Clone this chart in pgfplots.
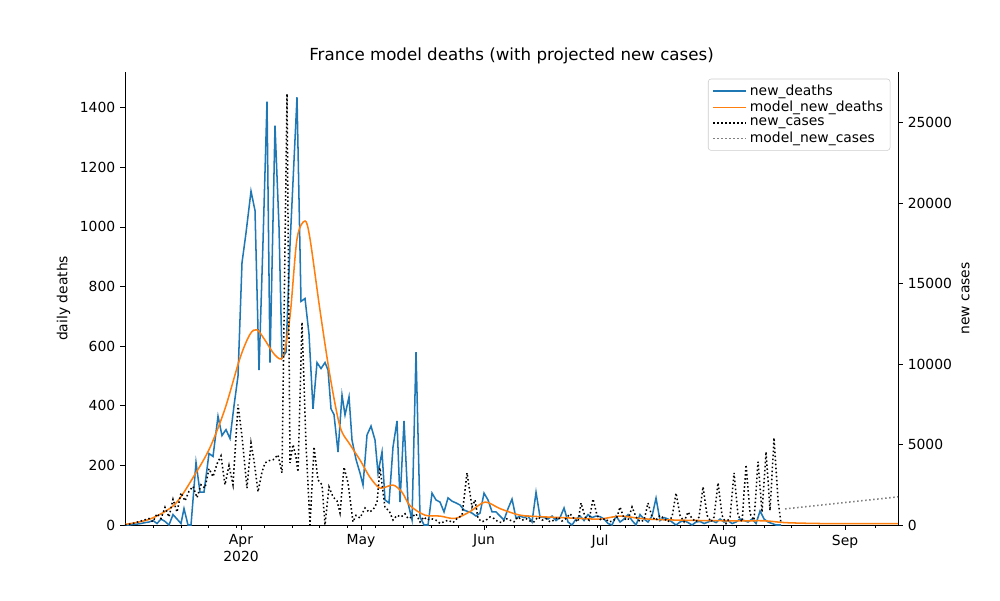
\documentclass[border=0pt]{standalone}
\usepackage{pgfplots}
\pgfplotsset{compat=1.18}
\usepackage{fontspec}
\setmainfont{DejaVu Sans}
\definecolor{c0}{HTML}{1F77B4}
\definecolor{c1}{HTML}{FF7F0E}
\begin{document}
\fontsize{10pt}{12pt}\selectfont
\begin{tikzpicture}
\path (-90pt,-54pt) rectangle (630pt,378pt);
\pgfplotsset{every axis/.append style={scale only axis, width=556.6pt, height=326.2pt,
  xmin=125, xmax=898, /pgf/number format/assume math mode=true,
  tick label style={font=\fontsize{10pt}{12pt}\selectfont},
  label style={font=\fontsize{10pt}{12pt}\selectfont},
  tick align=outside, major tick length=3.5pt, minor tick length=2pt, tick style={black, line width=0.6pt}}}
\begin{axis}[axis y line*=left, axis x line*=bottom, ymin=0, ymax=1520,
  ylabel={daily deaths},
  xtick={241,361,484,600,723,845},
  xticklabels={{Apr\\2020},May,Jun,Jul,Aug,Sep},
  xticklabel style={align=center},
  minor xtick={153,181,208,236,264,292,319,347,375,403,431,458,486,514,542,569,597,625,653,680,708,736,764,791,819,875},
  ytick={0,200,400,600,800,1000,1200,1400},
  yticklabel style={/pgf/number format/1000 sep={}},
  title={France model deaths (with projected new cases)},
  title style={font=\fontsize{12pt}{14pt}\selectfont, yshift=-4pt}]
\addplot[c0, line width=1.1pt] coordinates {
(125,0)(129,0)(133,2)(137,3)(141,5)(145,8)(149,10)(153,15)(157,5)(161,20)(165,12)(169,0)(173,35)(177,20)(181,5)(184,55)(188,0)(191,0)(196,210)(200,110)(204,110)(209,240)(213,230)(218,365)(222,300)(226,320)(230,290)(234,400)(238,500)(242,880)(246,980)(251,1120)(255,1055)(259,520)(263,950)(267,1420)(270,545)(275,1340)(279,1000)(282,560)(286,580)(290,940)(297,1435)(301,750)(305,760)(309,640)(313,390)(317,545)(321,525)(325,545)(328,520)(331,390)(334,370)(338,245)(342,436)(345,369)(349,430)(352,285)(356,220)(360,174)(363,134)(367,302)(371,332)(375,285)(378,174)(382,245)(385,84)(389,74)(393,262)(397,349)(400,77)(404,349)(408,74)(412,17)(416,580)(420,27)(424,0)(428,0)(432,107)(436,84)(440,77)(444,44)(448,91)(452,80)(456,74)(460,67)(464,50)(468,45)(472,40)(476,30)(480,40)(484,107)(488,84)(492,44)(496,44)(500,30)(504,17)(508,55)(512,87)(516,23)(520,30)(524,25)(528,30)(532,10)(536,110)(540,27)(544,25)(548,20)(552,30)(556,15)(560,25)(564,57)(568,10)(572,0)(576,20)(580,30)(584,15)(588,35)(592,25)(596,30)(600,28)(604,20)(608,5)(612,0)(616,30)(620,10)(624,20)(628,35)(632,15)(636,0)(640,35)(644,20)(648,10)(652,30)(656,90)(660,15)(664,25)(668,20)(672,10)(676,0)(680,10)(684,15)(688,8)(692,0)(696,10)(700,12)(704,5)(708,10)(712,15)(716,8)(720,20)(724,10)(728,15)(732,5)(736,10)(740,20)(744,15)(748,10)(752,20)(756,5)(760,47)(764,20)(768,10)(772,5)(776,0)(781,0)
};
\addplot[c1, line width=1.1pt, smooth] coordinates {
(125,2)(150,20)(175,70)(195,170)(210,260)(225,390)(240,560)(250,640)(257,655)(265,620)(275,570)(283,565)(290,700)(297,960)(305,1020)(310,960)(320,720)(330,500)(340,330)(350,270)(360,218)(370,160)(380,124)(393,134)(402,110)(410,65)(425,33)(440,30)(455,22)(470,45)(485,77)(500,55)(520,33)(540,28)(560,25)(580,22)(600,20)(620,30)(640,22)(660,18)(700,15)(740,14)(765,14)(785,8)(820,5)(860,5)(898,5)
};
\end{axis}
\begin{axis}[axis y line*=right, axis x line=none, ymin=0, ymax=28160,
  ytick={0,5000,10000,15000,20000,25000}, scaled y ticks=false,
  yticklabel style={/pgf/number format/1000 sep={}},
  ylabel={new cases},
  legend style={at={(0.99,0.985)}, anchor=north east, font=\fontsize{10pt}{12pt}\selectfont, draw=black!20, rounded corners=2pt, row sep=-1pt},
  legend image post style={xscale=1.4},
  legend cell align=left]
\addlegendimage{c0, line width=1.1pt}\addlegendentry{new\_deaths}
\addlegendimage{c1, line width=1.1pt}\addlegendentry{model\_new\_deaths}
\addplot[black, line width=1.1pt, dash pattern=on 1.1pt off 1.8pt] coordinates {
(125,0)(133,100)(141,250)(149,400)(153,200)(157,700)(161,400)(165,1100)(169,500)(173,1600)(177,800)(181,2000)(185,1500)(189,2100)(193,2400)(197,1700)(201,2500)(205,2300)(209,3500)(213,3000)(217,3800)(221,4300)(225,2500)(229,3700)(233,2500)(238,7480)(242,5500)(247,2300)(251,5100)(254,4000)(258,2060)(262,3300)(265,3860)(269,4000)(273,4050)(278,4360)(282,3240)(287,26800)(290,3860)(293,5000)(296,4200)(298,3300)(302,12600)(306,5000)(310,0)(314,4860)(318,2800)(322,2500)(325,0)(329,2370)(333,1750)(337,1500)(340,750)(344,3600)(348,2620)(353,190)(356,600)(360,440)(365,1060)(369,800)(373,940)(377,1400)(380,3550)(385,1060)(389,900)(393,310)(397,600)(401,500)(405,700)(408,400)(412,500)(416,700)(420,190)(424,500)(427,310)(431,400)(436,300)(440,100)(444,200)(448,300)(453,150)(457,400)(462,600)(467,3240)(472,1120)(475,1560)(478,400)(482,200)(486,300)(490,500)(494,400)(498,200)(502,150)(506,400)(510,300)(514,200)(518,500)(522,300)(526,400)(530,250)(534,200)(538,500)(542,300)(546,400)(550,200)(554,300)(558,500)(562,250)(566,400)(570,700)(574,400)(578,200)(581,1370)(585,500)(589,300)(593,1620)(597,600)(601,300)(605,400)(609,200)(613,250)(617,500)(620,1120)(624,400)(628,300)(632,1120)(636,500)(640,200)(644,300)(648,1370)(652,500)(656,300)(660,600)(664,400)(668,200)(672,500)(676,1990)(680,600)(684,200)(688,810)(692,400)(696,200)(699,500)(703,2370)(707,600)(711,200)(714,500)(718,2620)(722,600)(726,100)(730,500)(734,3240)(738,600)(742,200)(746,3740)(750,700)(754,300)(758,3930)(762,800)(766,4550)(770,900)(774,5420)(778,1500)(781,100)
};
\addlegendentry{new\_cases}
\addplot[gray, line width=1.1pt, dash pattern=on 1.1pt off 1.8pt] coordinates {(785,1000)(898,1750)};
\addlegendentry{model\_new\_cases}
\end{axis}
\end{tikzpicture}
\end{document}
